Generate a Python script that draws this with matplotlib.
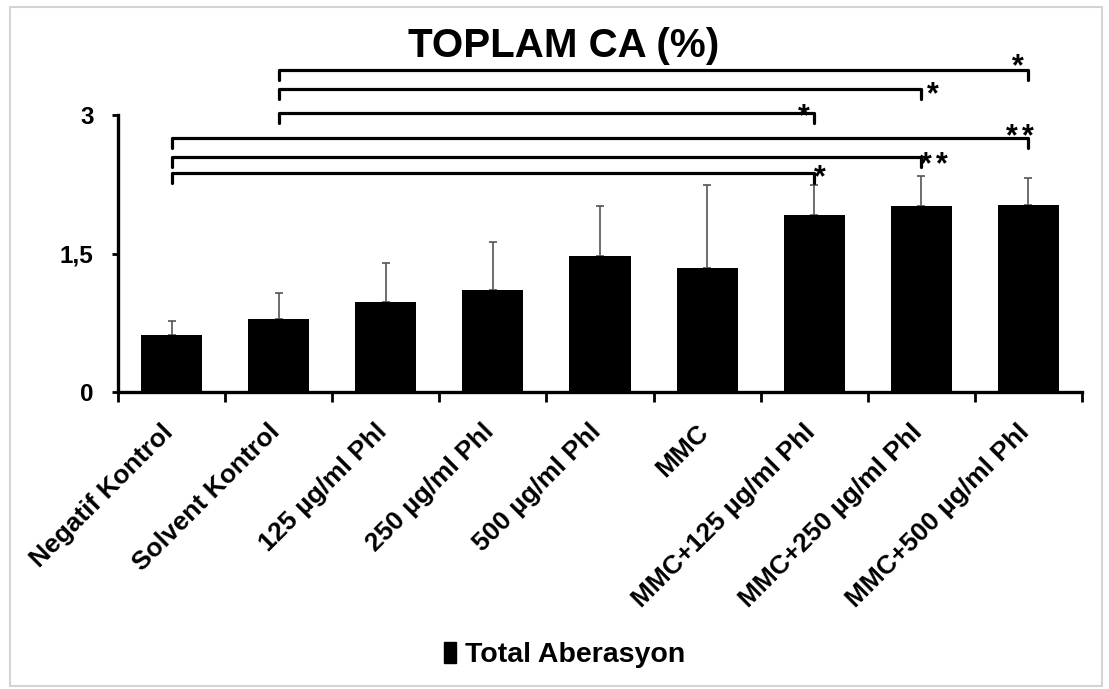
import matplotlib
matplotlib.use("Agg")
import matplotlib.pyplot as plt
from matplotlib.patches import Patch, Rectangle
from matplotlib.transforms import ScaledTranslation
import numpy as np

plt.rcParams['font.family'] = ['Liberation Sans', 'DejaVu Sans']
plt.rcParams['font.weight'] = 'bold'

# values
groups = ['Negatif Kontrol', 'Solvent Kontrol', '125 µg/ml Phl', '250 µg/ml Phl',
          '500 µg/ml Phl', 'MMC', 'MMC+125 µg/ml Phl', 'MMC+250 µg/ml Phl',
          'MMC+500 µg/ml Phl']
means = [0.62, 0.79, 0.98, 1.10, 1.47, 1.34, 1.92, 2.02, 2.03]
sds = [0.15, 0.28, 0.42, 0.53, 0.55, 0.90, 0.32, 0.32, 0.29]
y_ticks = [0, 1.5, 3]
y_labels = ['0', '1,5', '3']

# significance brackets: (from group, to group), label
pairs = [(0, 6), (0, 7), (0, 8), (1, 6), (1, 7), (1, 8)]
stars = ['*', '**', '**', '*', '*', '*']
bracket_y = [2.37, 2.55, 2.75, 3.02, 3.28, 3.49]
# star centre offset from the bracket's right end, in pixels
star_dx = [6, 12, -9, -10, 11, -11]
star_dy = [5, 1, 11, 6, 4, 13]

fig = plt.figure(figsize=(11.09, 6.89), dpi=100)
ax = fig.add_axes([0.1064, 0.431, 0.8693, 0.402])

x = np.arange(len(groups))
ax.bar(x, means, width=0.57, color='black', zorder=2)
ax.errorbar(x, means, yerr=[np.zeros(len(sds)), sds], fmt='none',
            ecolor='#555555', elinewidth=1.2, capsize=3, capthick=1.2, zorder=1)

ax.set_xlim(-0.5, len(groups) - 0.5)
ax.set_ylim(0, 3)

for sp in ['top', 'right']:
    ax.spines[sp].set_visible(False)
for sp in ['left', 'bottom']:
    ax.spines[sp].set_linewidth(2.4)

ax.set_yticks(y_ticks)
ax.set_yticklabels(y_labels, fontsize=17.5, fontweight='bold')
ax.tick_params(axis='y', length=4.5, width=2, pad=13)

ax.set_xticks(x)
ax.set_xticklabels(groups, rotation=45, ha='right', va='top',
                   rotation_mode='anchor', fontsize=19, fontweight='bold')
ax.set_xticks(np.arange(len(groups) + 1) - 0.5, minor=True)
ax.tick_params(axis='x', which='major', length=0, pad=20)
ax.tick_params(axis='x', which='minor', length=7, width=2)
shift = ScaledTranslation(-11 / 100, 0, fig.dpi_scale_trans)
for lab in ax.get_xticklabels():
    lab.set_transform(lab.get_transform() + shift)

drop = 0.11
px = 72 / 100
gap = 16  # pixels between two stars
for (a, b), s, h, dx, dy in zip(pairs, stars, bracket_y, star_dx, star_dy):
    ax.plot([a, a, b, b], [h - drop, h, h, h - drop], color='black',
            lw=2.3, clip_on=False, solid_capstyle='round')
    n = len(s)
    for k in range(n):
        ox = dx + (k - (n - 1) / 2) * gap
        ax.annotate('*', xy=(b, h), xytext=(ox * px, (dy - 18) * px),
                    textcoords='offset points', ha='center', va='baseline',
                    fontsize=22, fontweight='bold', annotation_clip=False)

fig.text(0.508, 0.933, 'TOPLAM CA (%)', ha='center', va='center',
         fontsize=29, fontweight='bold')

fig.legend(handles=[Patch(facecolor='black', edgecolor='black')],
           labels=['Total Aberasyon'], loc='center', bbox_to_anchor=(0.509, 0.049),
           frameon=False, handlelength=0.45, handleheight=0.75, handletextpad=0.3,
           prop={'size': 20.5, 'weight': 'bold'})

fig.patches.append(Rectangle((10 / 1109, 3 / 689), 1092 / 1109, 679 / 689,
                             transform=fig.transFigure, fill=False,
                             edgecolor='#d4d4d4', lw=1.5))

fig.savefig('out.png', dpi=100)
